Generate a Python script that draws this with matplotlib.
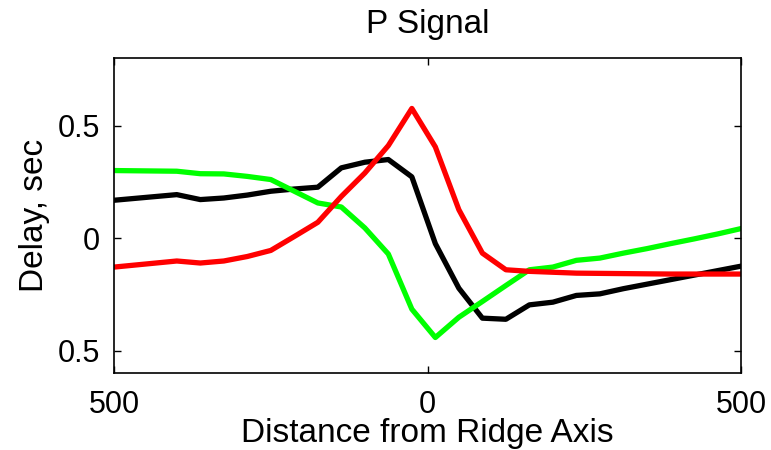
import matplotlib
matplotlib.use("Agg")
import matplotlib.pyplot as plt

plt.rcParams["font.family"] = ["Liberation Sans", "DejaVu Sans"]

# distance from ridge axis (km)
dist = [-500, -400, -362.5, -325, -287.5, -250, -212.5, -175, -137.5, -100,
        -62.5, -25, 12.5, 50, 87.5, 125, 162.5, 200, 237.5, 275, 312.5,
        350, 387.5, 425, 462.5, 500]

black = [0.168, 0.193, 0.171, 0.178, 0.191, 0.208, 0.218, 0.226, 0.312, 0.337,
         0.349, 0.272, -0.025, -0.223, -0.356, -0.361, -0.297, -0.285, -0.255,
         -0.248, -0.225, -0.205, -0.185, -0.165, -0.145, -0.125]
red = [-0.129, -0.102, -0.111, -0.102, -0.082, -0.055, 0.007, 0.070, 0.185,
       0.289, 0.411, 0.576, 0.405, 0.126, -0.067, -0.141, -0.148, -0.152,
       -0.156, -0.157, -0.158, -0.159, -0.160, -0.160, -0.160, -0.160]
green = [0.300, 0.297, 0.286, 0.285, 0.274, 0.260, 0.208, 0.156, 0.138, 0.045,
         -0.071, -0.316, -0.442, -0.352, -0.282, -0.211, -0.141, -0.129,
         -0.099, -0.089, -0.067, -0.047, -0.025, -0.004, 0.018, 0.042]

xticks = [-500, 0, 500]
xticklabels = ["500", "0", "500"]
yticks = [-0.5, 0, 0.5]
yticklabels = ["0.5", "0", "0.5"]

fig = plt.figure(figsize=(7.71, 4.5), dpi=100)
ax = fig.add_axes([0.148, 0.171, 0.813, 0.700])

lw = 3.8
ax.plot(dist, black, color="black", lw=lw)
ax.plot(dist, green, color=(0, 1, 0), lw=lw)
ax.plot(dist, red, color=(1, 0, 0), lw=lw)

ax.set_xlim(-500, 500)
ax.set_ylim(-0.6, 0.8)
ax.set_xticks(xticks)
ax.set_xticklabels(xticklabels)
ax.set_yticks(yticks)
ax.set_yticklabels(yticklabels)
ax.tick_params(direction="in", length=5, width=1, top=True, right=True,
               labelsize=22)
ax.tick_params(axis="x", pad=12)
ax.tick_params(axis="y", pad=10)
for s in ax.spines.values():
    s.set_linewidth(1.2)

ax.set_title("P Signal", fontsize=24, pad=18)
ax.set_xlabel("Distance from Ridge Axis", fontsize=24, labelpad=-1)
ax.set_ylabel("Delay, sec", fontsize=24, labelpad=6)

fig.savefig("out.png", dpi=100)
